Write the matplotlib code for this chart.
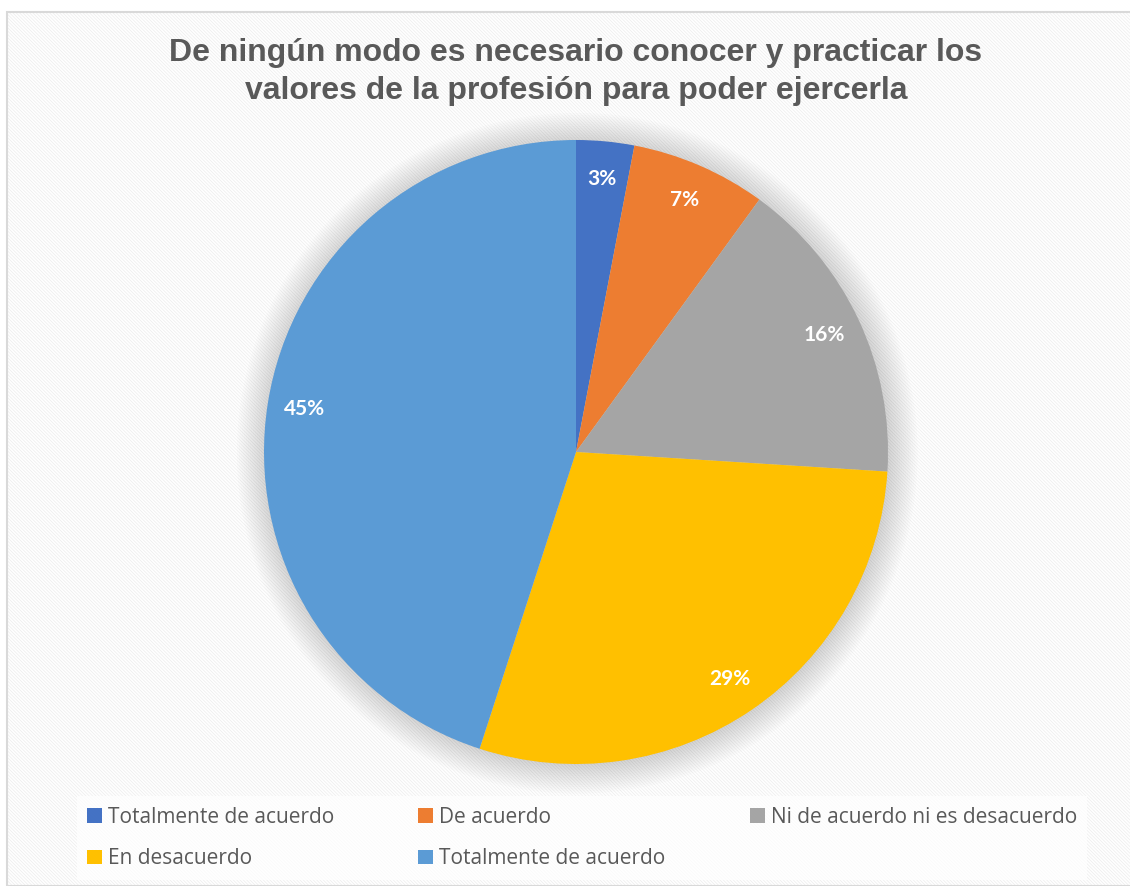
import matplotlib.pyplot as plt
from matplotlib.patches import Rectangle, Patch, Circle

title = "De ningún modo es necesario conocer y practicar los\nvalores de la profesión para poder ejercerla"
labels = ["Totalmente de acuerdo", "De acuerdo", "Ni de acuerdo ni es desacuerdo",
          "En desacuerdo", "Totalmente de acuerdo"]
percents = [3, 7, 16, 29, 45]
colors = ["#4472C4", "#ED7D31", "#A5A5A5", "#FFC000", "#5B9BD5"]

W, H = 1130, 886
fig = plt.figure(figsize=(W / 100, H / 100), dpi=100)

# chart area background with thin diagonal stripes
plt.rcParams['hatch.linewidth'] = 0.5
bg = Rectangle((7 / W, 0), 1.2, 1 - 12 / H, transform=fig.transFigure,
               facecolor="white", edgecolor="#ececec", hatch="\\" * 10, lw=0, zorder=-10)
fig.patches.append(bg)
border = Rectangle((7 / W, 0), 1.2, 1 - 12 / H, transform=fig.transFigure,
                   facecolor="none", edgecolor="#d9d9d9", lw=1.5, zorder=-9)
fig.patches.append(border)

cx, cy, r = 576, 452, 312
ax = fig.add_axes([(cx - r) / W, (H - cy - r) / H, 2 * r / W, 2 * r / H])
ax.patch.set_visible(False)

# soft shadow around the pie
for i in range(14):
    ax.add_patch(Circle((0.004, -0.004), 1.0 + 0.007 * i, facecolor="#000000",
                        alpha=0.012, lw=0, zorder=0, clip_on=False))

wedges, texts, autotexts = ax.pie(percents, colors=colors, startangle=90, counterclock=False,
                                  autopct=lambda p: "%d%%" % round(p), pctdistance=0.88,
                                  radius=1.0, wedgeprops=dict(linewidth=0, zorder=2))
ax.set_xlim(-1, 1)
ax.set_ylim(-1, 1)
ax.axis("off")
for t in autotexts:
    t.set_color("white")
    t.set_fontweight("bold")
    t.set_fontsize(15)
    t.set_family("Lato")
    t.set_zorder(3)

fig.text(cx / W, 1 - 72 / H, title, ha="center", va="center", fontsize=23,
         fontweight="bold", color="#595959", family="Liberation Sans", linespacing=1.35)

handles = [Patch(facecolor=c, edgecolor="none") for c in colors]
order = [0, 3, 1, 4, 2]
leg = fig.legend([handles[i] for i in order], [labels[i] for i in order],
                 loc="center", bbox_to_anchor=(582 / W, 1 - 838 / H), ncol=3,
                 frameon=True, fancybox=False, handlelength=0.7, handleheight=0.7,
                 handletextpad=0.3, columnspacing=4.05, labelspacing=1.0,
                 prop={"family": "Open Sans", "size": 15}, labelcolor="#595959",
                 borderpad=0.5)
leg.get_frame().set_facecolor("white")
leg.get_frame().set_alpha(0.7)
leg.get_frame().set_edgecolor("none")

fig.savefig("out.png", dpi=100)
